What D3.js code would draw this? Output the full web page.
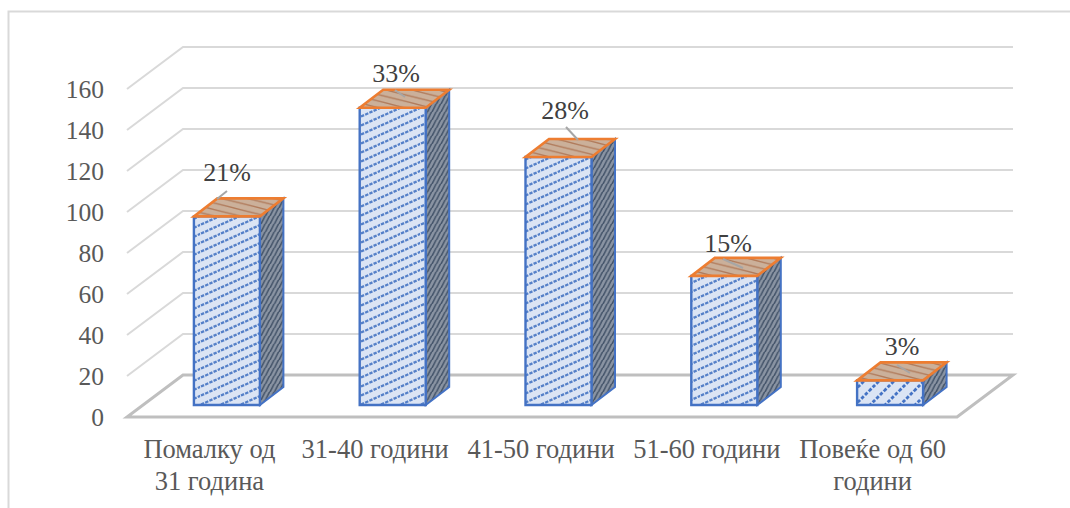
<!DOCTYPE html>
<html>
<head>
<meta charset="utf-8">
<script src="https://cdn.jsdelivr.net/npm/d3@7"></script>
<style>
html,body{margin:0;padding:0;background:#fff}
svg{display:block}
text{font-family:"Liberation Serif",serif;fill:#595959}
</style>
</head>
<body>
<div id="chart"></div>
<script>
const categories = ["Помалку од 31 година", "31-40 години", "41-50 години", "51-60 години", "Повеќе од 60 години"];
const categoryLines = [["Помалку од", "31 година"], ["31-40 години"], ["41-50 години"], ["51-60 години"], ["Повеќе од 60", "години"]];
const values = [92, 145, 121, 63, 12];
const percentLabels = ["21%", "33%", "28%", "15%", "3%"];
const yTicks = [0, 20, 40, 60, 80, 100, 120, 140, 160];

const W = 1070, H = 508;
const svg = d3.select("#chart").append("svg").attr("width", W).attr("height", H);
const defs = svg.append("defs");

// Oblique projection: the floor recedes by (56,-42); bars sit partway into it.
const wallDx = 56, wallDy = -42;
const barDx = 23.5, barDy = -18;
const floorInsetX = 17, floorInsetY = -12;

const y = d3.scaleLinear().domain([0, 160]).range([417, 89]);
const x = d3.scaleBand().domain(categories)
  .range([127 + floorInsetX, 956 + floorInsetX]).paddingInner(0.6).paddingOuter(0.3);
const barW = 66;
const barLeft = c => x(c) + x.bandwidth() / 2 - barW / 2;

// Hatch fills for the three visible faces of a bar
function hatch(id, w, h, bg, line, lw, dash, d) {
  const p = defs.append("pattern").attr("id", id).attr("patternUnits", "userSpaceOnUse")
    .attr("width", w).attr("height", h);
  p.append("rect").attr("width", w).attr("height", h).attr("fill", bg);
  const l = p.append("path").attr("d", d).attr("stroke", line).attr("stroke-width", lw).attr("fill", "none");
  if (dash) l.attr("stroke-dasharray", dash);
}
hatch("frontTall", 20, 9, "#dbe4f4", "#5580c8", 2.3, "3.4 1.2", "M-20,18 L40,-9 M-20,9 L40,-18 M-20,27 L40,0");
hatch("frontShort", 15, 15, "#dbe4f4", "#4472c4", 2.8, "3.4 1.8", "M-1,16 L16,-1 M-8,8 L8,-8 M7,23 L23,7");
hatch("side", 4.5, 8, "#8a94a3", "#44546a", 1.5, null, "M-2.25,12.5 L6.75,-5.5 M-4.5,8 L4.5,-10 M0,17 L9,-1");
hatch("top", 26, 6.5, "#cbb09a", "#b07a5a", 1.3, null, "M-13,-3.25 L39,9.75 M-13,-9.75 L39,3.25 M-13,3.25 L39,16.25");

const g = svg.append("g");

// Outer frame: top and left edges only
g.append("path").attr("d", `M8.5,${H} V11.5 H${W}`).attr("fill", "none").attr("stroke", "#d9d9d9").attr("stroke-width", 2);

// Gridlines run up the side wall and across the back wall
yTicks.slice(1).forEach(t => {
  const yy = y(t);
  g.append("path")
    .attr("d", d3.line()([[127, yy], [127 + wallDx, yy + wallDy], [1013, yy + wallDy]]))
    .attr("fill", "none").attr("stroke", "#d9d9d9").attr("stroke-width", 2);
});

// Floor
g.append("path")
  .attr("d", d3.line().curve(d3.curveLinearClosed)([[127, y(0)], [957, y(0)], [1013, y(0) + wallDy], [183, y(0) + wallDy]]))
  .attr("fill", "none").attr("stroke", "#bfbfbf").attr("stroke-width", 3);

// Value axis labels
g.selectAll("text.tick").data(yTicks).join("text")
  .attr("class", "tick")
  .attr("x", 104).attr("y", d => y(d)).attr("dy", "0.34em")
  .attr("text-anchor", "end").attr("font-size", 25.5)
  .text(d => d);

// Bars
const bars = g.selectAll("g.bar").data(categories).join("g").attr("class", "bar");
bars.each(function (c, i) {
  const b = d3.select(this);
  const x0 = barLeft(c), x1 = x0 + barW;
  const base = y(0) + floorInsetY;
  const top = base - (y(0) - y(values[i]));
  const blue = "#4472c4", orange = "#ed7d31";
  const ln = d3.line().curve(d3.curveLinearClosed);
  b.append("path").attr("d", ln([[x1, top], [x1 + barDx, top + barDy], [x1 + barDx, base + barDy], [x1, base]]))
    .attr("fill", "url(#side)").attr("stroke", blue).attr("stroke-width", 2);
  b.append("path").attr("d", ln([[x0, top], [x1, top], [x1, base], [x0, base]]))
    .attr("fill", i === 4 ? "url(#frontShort)" : "url(#frontTall)").attr("stroke", blue).attr("stroke-width", 2.4);
  b.append("path").attr("d", ln([[x0, top], [x1, top], [x1 + barDx, top + barDy], [x0 + barDx, top + barDy]]))
    .attr("fill", "url(#top)").attr("stroke", orange).attr("stroke-width", 2.6);
});

// Percentage labels with their short leader lines
const labelX = [227, 396, 565, 728, 902];
const labelY = [172, 73, 110, 243, 346];
const leaders = [[[227, 191], [217, 199]], [[395, 90], [405, 97]], [[566, 127], [578, 140]], [[723, 259], [743, 268]], [[897, 365], [910, 373]]];
leaders.forEach(l => g.append("path").attr("d", d3.line()(l)).attr("stroke", "#a6a6a6").attr("stroke-width", 2).attr("fill", "none"));
g.selectAll("text.pct").data(percentLabels).join("text")
  .attr("class", "pct").attr("x", (d, i) => labelX[i]).attr("y", (d, i) => labelY[i])
  .attr("dy", "0.34em").attr("text-anchor", "middle").attr("font-size", 26)
  .style("fill", "#404040").text(d => d);

// Category labels
const catG = g.selectAll("text.cat").data(categories).join("text")
  .attr("class", "cat").attr("text-anchor", "middle").attr("font-size", 26.5);
catG.each(function (c, i) {
  const cx = barLeft(c) + barW / 2 - 17.5;
  d3.select(this).selectAll("tspan").data(categoryLines[i]).join("tspan")
    .attr("x", cx).attr("y", (d, k) => 458 + k * 32).text(d => d);
});
</script>
</body>
</html>
